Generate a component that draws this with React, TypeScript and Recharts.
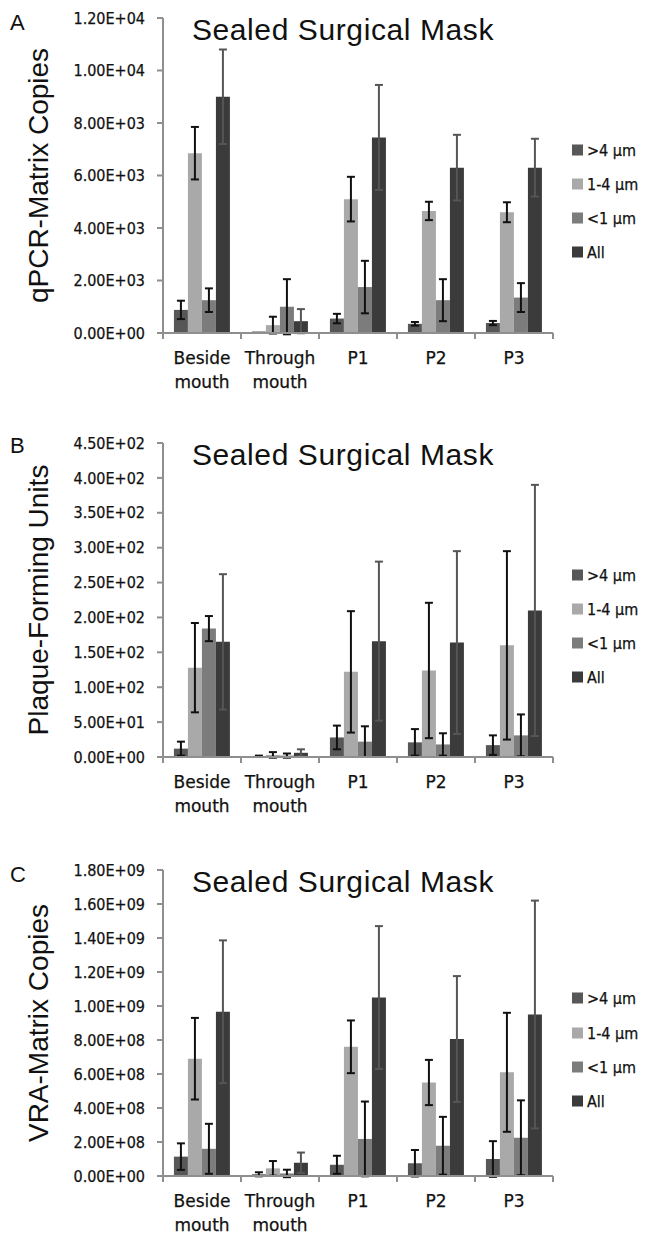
import React from 'react';
import { BarChart, Bar, XAxis, YAxis, ErrorBar } from 'recharts';

const categories = ['Beside mouth', 'Through mouth', 'P1', 'P2', 'P3'];
const seriesNames = ['>4 µm', '1-4 µm', '<1 µm', 'All'];
const seriesColors = ['#575757', '#a9a9a9', '#7c7c7c', '#3b3b3b'];
const errColors = ['#111111', '#111111', '#111111', '#555555'];

// A: qPCR-Matrix Copies
const qpcrGt4 = [880, 60, 550, 350, 380];
const qpcrGt4Err = [350, 0, 180, 70, 80];
const qpcrMid = [6850, 300, 5100, 4650, 4600];
const qpcrMidErr = [1000, 320, 850, 350, 380];
const qpcrLt1 = [1250, 1000, 1750, 1250, 1350];
const qpcrLt1Err = [450, 1050, 1000, 800, 550];
const qpcrAll = [9000, 450, 7450, 6300, 6300];
const qpcrAllErr = [1800, 460, 2000, 1250, 1100];
const qpcrTicks = [0, 2000, 4000, 6000, 8000, 10000, 12000];

// B: Plaque-Forming Units
const pfuGt4 = [12, 1, 28, 21, 17];
const pfuGt4Err = [10, 1, 17, 19, 14];
const pfuMid = [128, 3, 122, 124, 160];
const pfuMidErr = [64, 4, 87, 97, 135];
const pfuLt1 = [184, 2, 22, 18, 31];
const pfuLt1Err = [18, 3, 22, 16, 30];
const pfuAll = [165, 6, 166, 164, 210];
const pfuAllErr = [97, 5, 114, 131, 180];
const pfuTicks = [0, 50, 100, 150, 200, 250, 300, 350, 400, 450];

// C: VRA-Matrix Copies
const vraGt4 = [1.14e8, 0.1e8, 0.66e8, 0.75e8, 1.0e8];
const vraGt4Err = [0.78e8, 0.12e8, 0.53e8, 0.78e8, 1.05e8];
const vraMid = [6.9e8, 0.45e8, 7.6e8, 5.5e8, 6.1e8];
const vraMidErr = [2.4e8, 0.43e8, 1.55e8, 1.33e8, 3.5e8];
const vraLt1 = [1.6e8, 0.15e8, 2.18e8, 1.78e8, 2.25e8];
const vraLt1Err = [1.47e8, 0.22e8, 2.2e8, 1.7e8, 2.2e8];
const vraAll = [9.66e8, 0.78e8, 10.5e8, 8.06e8, 9.5e8];
const vraAllErr = [4.2e8, 0.6e8, 4.2e8, 3.7e8, 6.7e8];
const vraTicks = [0, 2e8, 4e8, 6e8, 8e8, 10e8, 12e8, 14e8, 16e8, 18e8];

const W = 647;
const AXIS_LEFT = 163;
const RIGHT = 94;
const PLOT_W = W - AXIS_LEFT - RIGHT;
const AXIS = '#8f8f8f';
const TICK_FONT = "'DejaVu Sans Condensed', 'DejaVu Sans', sans-serif";
const CAT_FONT = "'DejaVu Sans', sans-serif";
const TITLE_FONT = "'Liberation Sans', Arial, sans-serif";

const buildRows = (vals: number[][], errs: number[][]) =>
  categories.map((name, i) => {
    const row: any = { name };
    vals.forEach((v, k) => {
      row['v' + k] = v[i];
      row['e' + k] = errs[k][i];
    });
    return row;
  });

const fmtSci = (v: number) => {
  const [m, e] = v.toExponential(2).split('e');
  const n = parseInt(e, 10);
  return `${m}E${n < 0 ? '-' : '+'}${String(Math.abs(n)).padStart(2, '0')}`;
};

const CatTick = (props: any) => {
  const { x, y, payload } = props;
  const band = PLOT_W / categories.length;
  const lines = String(payload.value).split(' ');
  const last = payload.value === categories[categories.length - 1];
  return (
    <g>
      <line x1={x - band / 2} y1={y} x2={x - band / 2} y2={y + 6} stroke={AXIS} strokeWidth={2} />
      {last && <line x1={x + band / 2} y1={y} x2={x + band / 2} y2={y + 6} stroke={AXIS} strokeWidth={2} />}
      {lines.map((t, i) => (
        <text
          key={i}
          x={x}
          y={y + 31 + i * 24}
          textAnchor="middle"
          fontSize={17}
          fontFamily={CAT_FONT}
          fill="#111"
          stroke="#111"
          strokeWidth={0.25}
        >
          {t}
        </text>
      ))}
    </g>
  );
};

type PanelProps = {
  top: number;
  height: number;
  marginTop: number;
  xH: number;
  rows: any[];
  ticks: number[];
  letter: string;
  letterY: number;
  yLabel: string;
  titleY: number;
  legendY: number[];
};

function Panel(p: PanelProps) {
  const plotTop = p.marginTop;
  const plotBottom = p.height - p.xH;
  const labelCy = (plotTop + plotBottom) / 2;
  return (
    <div style={{ position: 'absolute', left: 0, top: p.top, width: W, height: p.height }}>
      <BarChart
        width={W}
        height={p.height}
        data={p.rows}
        margin={{ top: p.marginTop, right: RIGHT, bottom: 0, left: 0 }}
        barCategoryGap="14%"
        barGap={0}
      >
        <XAxis
          dataKey="name"
          height={p.xH}
          interval={0}
          axisLine={{ stroke: AXIS, strokeWidth: 2 }}
          tickLine={false}
          tickSize={0}
          tickMargin={0}
          tick={<CatTick />}
        />
        <YAxis
          width={AXIS_LEFT}
          domain={[0, p.ticks[p.ticks.length - 1]]}
          allowDataOverflow
          ticks={p.ticks}
          interval={0}
          tickFormatter={fmtSci}
          axisLine={{ stroke: AXIS, strokeWidth: 2 }}
          tickLine={{ stroke: AXIS, strokeWidth: 2 }}
          tickSize={6}
          tickMargin={12}
          tick={{ fontSize: 16, fontFamily: TICK_FONT, fill: '#111', stroke: '#111', strokeWidth: 0.25 }}
        />
        {seriesNames.map((n, k) => (
          <Bar key={n} dataKey={'v' + k} name={n} fill={seriesColors[k]} isAnimationActive={false}>
            <ErrorBar dataKey={'e' + k} width={4} stroke={errColors[k]} strokeWidth={2} direction="y" />
          </Bar>
        ))}
      </BarChart>
      <svg width={W} height={p.height} style={{ position: 'absolute', left: 0, top: 0, pointerEvents: 'none' }}>
        <text x={10} y={p.letterY} fontSize={22} fontFamily={TITLE_FONT} fill="#111">
          {p.letter}
        </text>
        <text x={343} y={p.titleY} textAnchor="middle" fontSize={30} letterSpacing={0.6} fontFamily={TITLE_FONT} fill="#111">
          Sealed Surgical Mask
        </text>
        <text
          x={48}
          y={labelCy}
          textAnchor="middle"
          fontSize={28}
          fontFamily={TITLE_FONT}
          fill="#111"
          transform={`rotate(-90, 48, ${labelCy})`}
        >
          {p.yLabel}
        </text>
        {seriesNames.map((n, k) => (
          <g key={n}>
            <rect x={572} y={p.legendY[k] - 5.5} width={11} height={11} fill={seriesColors[k]} />
            <text
              x={587}
              y={p.legendY[k] + 6}
              fontSize={16}
              fontFamily={TICK_FONT}
              fill="#111"
              stroke="#111"
              strokeWidth={0.25}
            >
              {n}
            </text>
          </g>
        ))}
      </svg>
    </div>
  );
}

export default function App() {
  const rowsA = buildRows([qpcrGt4, qpcrMid, qpcrLt1, qpcrAll], [qpcrGt4Err, qpcrMidErr, qpcrLt1Err, qpcrAllErr]);
  const rowsB = buildRows([pfuGt4, pfuMid, pfuLt1, pfuAll], [pfuGt4Err, pfuMidErr, pfuLt1Err, pfuAllErr]);
  const rowsC = buildRows([vraGt4, vraMid, vraLt1, vraAll], [vraGt4Err, vraMidErr, vraLt1Err, vraAllErr]);
  return (
    <div style={{ position: 'absolute', left: 0, top: 0, width: W, height: 1242, background: '#fff', overflow: 'hidden' }}>
      <Panel
        top={0}
        height={400}
        marginTop={18}
        xH={67}
        rows={rowsA}
        ticks={qpcrTicks}
        letter="A"
        letterY={30}
        yLabel="qPCR-Matrix Copies"
        titleY={40}
        legendY={[150, 184, 218, 252]}
      />
      <Panel
        top={420}
        height={400}
        marginTop={23}
        xH={63}
        rows={rowsB}
        ticks={pfuTicks}
        letter="B"
        letterY={33}
        yLabel="Plaque-Forming Units"
        titleY={45}
        legendY={[155, 189, 223, 257]}
      />
      <Panel
        top={845}
        height={397}
        marginTop={25}
        xH={66}
        rows={rowsC}
        ticks={vraTicks}
        letter="C"
        letterY={37}
        yLabel="VRA-Matrix Copies"
        titleY={47}
        legendY={[153, 188, 222, 256]}
      />
    </div>
  );
}
